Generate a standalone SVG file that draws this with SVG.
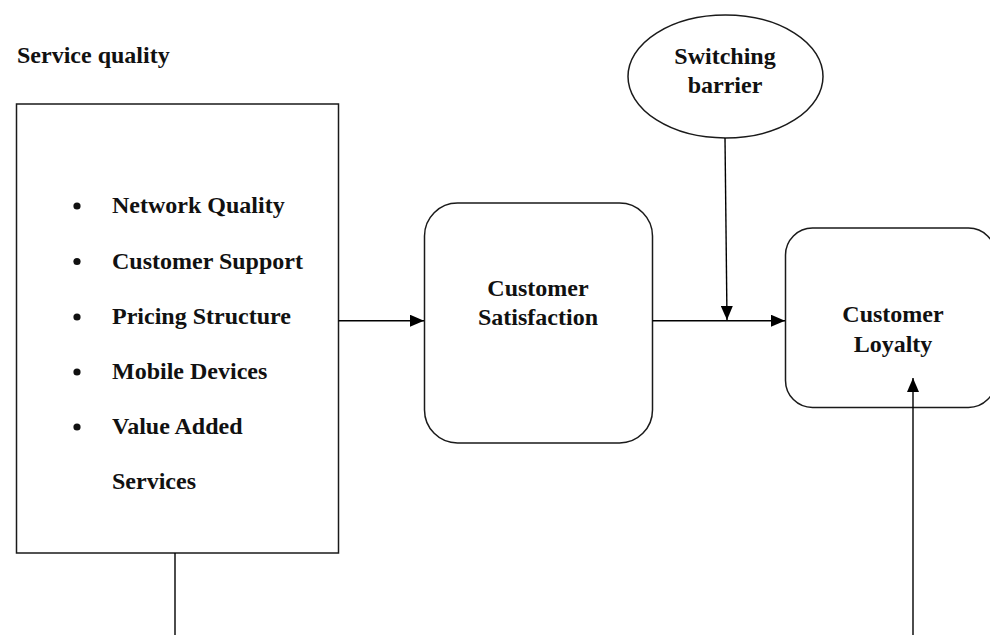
<svg xmlns="http://www.w3.org/2000/svg" width="990" height="635" viewBox="0 0 990 635">
  <style>
    .shape { fill: #ffffff; stroke: #1a1a1a; stroke-width: 1.5; }
    .conn { fill: none; stroke: #000000; stroke-width: 1.4; }
    .t { font-family: "Liberation Serif", "Times New Roman", serif; font-size: 24px; font-weight: bold; fill: #111111; }
    .c { text-anchor: middle; }
  </style>
  <defs>
    <marker id="arrow" markerUnits="userSpaceOnUse" markerWidth="15" markerHeight="12" refX="14" refY="6" orient="auto">
      <path d="M0,0 L14,6 L0,12 z" fill="#000000"/>
    </marker>
  </defs>
  <rect x="0" y="0" width="990" height="635" fill="#ffffff"/>

  <text class="t" x="17" y="63">Service quality</text>

  <g id="service-quality">
    <rect class="shape" x="16.5" y="104" width="322" height="449"/>
    <g fill="#111111">
      <circle cx="77" cy="206" r="3.6"/>
      <circle cx="77" cy="261.5" r="3.6"/>
      <circle cx="77" cy="317" r="3.6"/>
      <circle cx="77" cy="372" r="3.6"/>
      <circle cx="77" cy="427" r="3.6"/>
    </g>
    <text class="t" x="112" y="213">Network Quality</text>
    <text class="t" x="112" y="268.5">Customer Support</text>
    <text class="t" x="112" y="324">Pricing Structure</text>
    <text class="t" x="112" y="379">Mobile Devices</text>
    <text class="t" x="112" y="434">Value Added</text>
    <text class="t" x="112" y="489">Services</text>
  </g>

  <g id="customer-satisfaction">
    <rect class="shape" x="424.5" y="203" width="228" height="240" rx="33" ry="33"/>
    <text class="t c" x="538" y="296">Customer</text>
    <text class="t c" x="538" y="325">Satisfaction</text>
  </g>

  <g id="switching-barrier">
    <ellipse class="shape" cx="725.5" cy="76.5" rx="97.5" ry="61.5"/>
    <text class="t c" x="725" y="64">Switching</text>
    <text class="t c" x="725" y="93">barrier</text>
  </g>

  <g id="customer-loyalty">
    <rect class="shape" x="785.5" y="228" width="210" height="179.5" rx="27" ry="27"/>
    <text class="t c" x="893" y="322">Customer</text>
    <text class="t c" x="893" y="352">Loyalty</text>
  </g>

  <g id="connectors">
    <line class="conn" x1="338.5" y1="320.7" x2="424" y2="320.7" marker-end="url(#arrow)"/>
    <line class="conn" x1="652.5" y1="320.7" x2="785" y2="320.7" marker-end="url(#arrow)"/>
    <line class="conn" x1="725" y1="138" x2="727" y2="320" marker-end="url(#arrow)"/>
    <line class="conn" x1="913" y1="635" x2="913" y2="378" marker-end="url(#arrow)"/>
    <line class="conn" x1="175" y1="553" x2="175" y2="635"/>
  </g>
</svg>
